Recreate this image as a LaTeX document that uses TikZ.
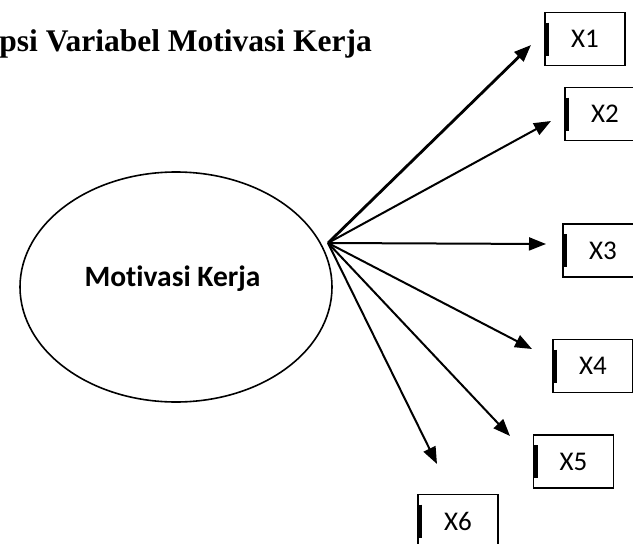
\documentclass[tikz,border=0pt]{standalone}
\usepackage{fontspec}
\setmainfont{Liberation Serif}
\newfontfamily\calib[Ligatures=NoCommon]{Carlito}
\usetikzlibrary{arrows.meta,shapes.geometric}
\tikzset{
  xbox/.style={draw, line width=1.8pt, minimum width=80pt, minimum height=53pt, inner sep=0pt,
    font=\calib\fontsize{27}{30}\selectfont,
    path picture={\draw[line width=3.2pt] ([xshift=2.5pt,yshift=-10pt]path picture bounding box.north west) -- ([xshift=2.5pt,yshift=10pt]path picture bounding box.south west);}},
  arr/.style={line width=2pt, -{Triangle[length=17pt,width=13pt]}}
}
\begin{document}
\begin{tikzpicture}[x=1pt,y=-1pt]
\useasboundingbox[fill=white] (0,0) rectangle (633,544);
\node[anchor=base east, inner sep=0pt, font=\bfseries\fontsize{31.5}{35}\selectfont] (title) at (372,51) {psi Variabel Motivasi Kerja};
\node[draw, line width=1.6pt, ellipse, minimum width=312pt, minimum height=230pt, inner sep=0pt] (mk) at (176,287) {};
\node[inner sep=0pt, anchor=base, font=\calib\bfseries\fontsize{29.5}{32}\selectfont] (mkt) at (172.5,286) {Motivasi Kerja};
\node[xbox] (x1) at (585,39) {X1};
\node[xbox] (x2) at (605,114) {X2};
\node[xbox] (x3) at (603,250.5) {X3};
\node[xbox] (x4) at (593,366) {X4};
\node[xbox] (x5) at (573.5,461.5) {X5};
\node[xbox] (x6) at (458,521) {X6};
\coordinate (o) at (328,243);
\coordinate (t1) at (531,45);
\coordinate (t2) at (551,121);
\coordinate (t3) at (546,244);
\coordinate (t4) at (532,349);
\coordinate (t5) at (510,436);
\coordinate (t6) at (437,464);
\draw[arr, line width=2.8pt] (o) -- (t1);
\draw[arr] (o) -- (t2);
\draw[arr] (o) -- (t3);
\draw[arr] (o) -- (t4);
\draw[arr] (o) -- (t5);
\draw[arr] (o) -- (t6);
\end{tikzpicture}
\end{document}
